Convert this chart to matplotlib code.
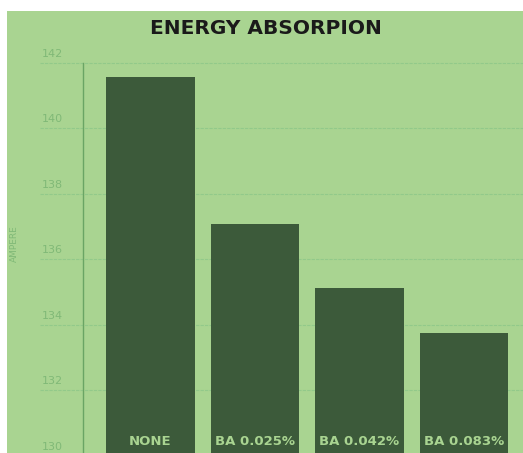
import matplotlib
matplotlib.use('Agg')
import matplotlib.pyplot as plt
import matplotlib.transforms as mtransforms
from matplotlib.patches import Rectangle

# data
categories = ['NONE', 'BA 0.025%', 'BA 0.042%', 'BA 0.083%']
ampere = [141.56, 137.08, 135.13, 133.76]
yticks = [130, 132, 134, 136, 138, 140, 142]

bg = '#a9d491'
bar_col = '#3c5a3a'
grid_col = '#92c98a'
label_col = '#80b977'

W, H = 523, 453
fig = plt.figure(figsize=(W / 100, H / 100), dpi=100, facecolor='white')

# green panel (white strip top and left)
fig.patches.append(Rectangle((7 / W, 0), 1 - 7 / W, (H - 11) / H,
                             transform=fig.transFigure, facecolor=bg,
                             edgecolor='none', zorder=-5))

ax = fig.add_axes([83 / W, 0, 440 / W, (H - 62.7) / H])
ax.set_zorder(2)
ax.set_facecolor('none')
ax.set_xlim(-0.646, 3.565)
ax.set_ylim(130.08, 142)

x = range(len(categories))
ax.bar(x, ampere, width=0.85, bottom=0, color=bar_col, zorder=3)

# grid lines reach left past the axis line
xmin = (40 - 83) / 440
for v in yticks:
    ax.axhline(v, xmin=xmin, xmax=1, color=grid_col, lw=0.8,
               linestyle=(0, (3, 1)), clip_on=False, zorder=1)

# tick labels sit above their grid lines
off = mtransforms.ScaledTranslation(0, 9 / 100, fig.dpi_scale_trans)
for v in yticks:
    ax.text(xmin + 0.005, v, str(v), transform=ax.get_yaxis_transform() + off,
            ha='left', va='center', fontsize=8, color=label_col)

for i, c in enumerate(categories):
    ax.text(i, 130.22, c, ha='center', va='bottom', fontsize=9.5,
            fontweight='bold', color=bg, zorder=4)

ax.set_xticks([])
ax.set_yticks([])
for s in ['top', 'right', 'bottom']:
    ax.spines[s].set_visible(False)
ax.spines['left'].set_color('#6aa564')
ax.spines['left'].set_linewidth(1)

fig.text(266 / W, 1 - 28 / H, 'ENERGY ABSORPION', ha='center', va='center',
         fontsize=14.5, fontweight='bold', color='#1a1a1a')
fig.text(14 / W, 1 - 244 / H, 'AMPERE', rotation=90, ha='center', va='center',
         fontsize=6.5, color=label_col)

fig.savefig('out.png', dpi=100, facecolor='white')
